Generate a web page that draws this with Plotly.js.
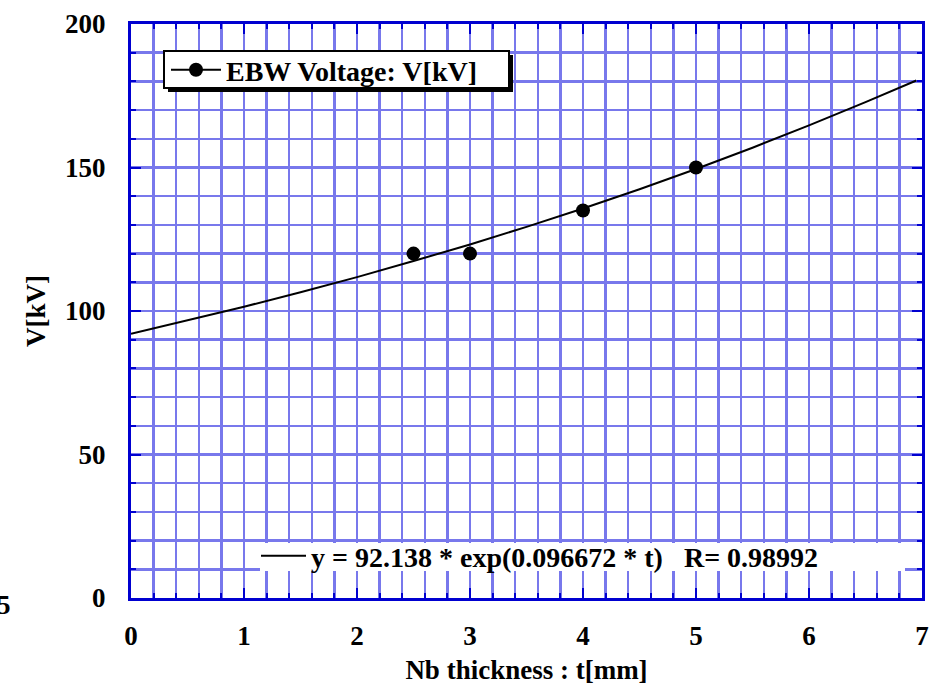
<!DOCTYPE html>
<html>
<head>
<meta charset="utf-8">
<script src="https://cdn.plot.ly/plotly-3.0.1.min.js"></script>
<style>body{margin:0;padding:0;background:#fff}#chart{width:936px;height:688px}</style>
</head>
<body>
<div id="chart"></div>
<script>
// Measured points
var thickness = [2.5, 3, 4, 5];
var voltage = [120, 120, 135, 150];
// Fit curve
var fitT = [0, 0.5, 1, 1.5, 2, 2.5, 3, 3.5, 4, 4.5, 5, 5.5, 6, 6.5, 6.95];
var fitV = [92.1, 96.7, 101.5, 106.5, 111.8, 117.4, 123.2, 129.3, 135.7, 142.4, 149.5, 156.9, 164.7, 172.8, 180.3];
var dataLabel = 'EBW Voltage: V[kV]';
var fitLabel = 'y = 92.138 * exp(0.096672 * t)   R= 0.98992';
var xTitle = 'Nb thickness : t[mm]';
var yTitle = 'V[kV]';

var L = 131, R = 922, T = 24, B = 598;
function px(x){ return (x - L) / (R - L); }
function py(y){ return (B - y) / (B - T); }

var F = '"Liberation Serif", "Times New Roman", Times, serif';
var frame = '#0000d0';
var grid = '#7878ec';
var fnt = {family: F, size: 27, color: '#000', weight: 'bold'};
var lfnt = {family: F, size: 28, color: '#000', weight: 'bold'};

var traces = [
  {x: fitT, y: fitV, mode: 'lines', line: {color: '#000', width: 2}, name: fitLabel, legend: 'legend2', showlegend: true, hoverinfo: 'skip'},
  {x: thickness, y: voltage, mode: 'markers', marker: {color: '#000', size: 14}, showlegend: false},
  {x: [null], y: [null], mode: 'lines+markers', line: {color: '#000', width: 2}, marker: {color: '#000', size: 14}, name: dataLabel, showlegend: true}
];

var axisCommon = {
  showline: true, linecolor: frame, linewidth: 3, mirror: 'ticks',
  ticks: 'inside', ticklen: 10, tickwidth: 2, tickcolor: frame,
  showgrid: true, gridcolor: grid, gridwidth: 2.5, zeroline: false,
  tickfont: fnt
};

var layout = {
  width: 936, height: 688,
  margin: {l: L, r: 936 - R, t: T, b: 688 - B},
  paper_bgcolor: '#fff', plot_bgcolor: '#fff',
  showlegend: true,
  xaxis: Object.assign({}, axisCommon, {
    range: [0, 7], dtick: 1, tick0: 0, ticklabelstandoff: 12,
    minor: {dtick: 0.2, ticks: 'inside', ticklen: 5, tickwidth: 2, tickcolor: frame, showgrid: true, gridcolor: grid, gridwidth: 2.5},
    title: {text: xTitle, font: fnt, standoff: 10}
  }),
  yaxis: Object.assign({}, axisCommon, {
    range: [0, 200], dtick: 50, tick0: 0, ticklabelstandoff: 17,
    minor: {dtick: 10, ticks: 'inside', ticklen: 5, tickwidth: 2, tickcolor: frame, showgrid: true, gridcolor: grid, gridwidth: 2.5},
    title: {text: yTitle, font: fnt, standoff: 12}
  }),
  legend: {
    x: px(166), y: py(45), xanchor: 'left', yanchor: 'top',
    bgcolor: 'rgba(0,0,0,0)', borderwidth: 0, itemwidth: 50,
    font: lfnt
  },
  legend2: {
    x: px(256), y: py(531), xanchor: 'left', yanchor: 'top',
    bgcolor: 'rgba(0,0,0,0)', borderwidth: 0, itemwidth: 45,
    font: lfnt
  },
  shapes: [
    {type: 'rect', xref: 'paper', yref: 'paper', x0: px(168), x1: px(513), y0: py(92), y1: py(55), fillcolor: '#000', line: {width: 0}, layer: 'above'},
    {type: 'rect', xref: 'paper', yref: 'paper', x0: px(164), x1: px(509), y0: py(88), y1: py(51), fillcolor: '#fff', line: {color: '#000', width: 2}, layer: 'above'},
    {type: 'rect', xref: 'paper', yref: 'paper', x0: px(260), x1: px(905), y0: py(571), y1: py(543), fillcolor: '#fff', line: {width: 0}, layer: 'above'}
  ],
  annotations: [
    {text: '5', xref: 'paper', yref: 'paper', x: px(-5), y: py(605), xanchor: 'left', yanchor: 'middle', showarrow: false, font: fnt}
  ]
};

Plotly.newPlot('chart', traces, layout, {displayModeBar: false, staticPlot: true});
</script>
</body>
</html>
